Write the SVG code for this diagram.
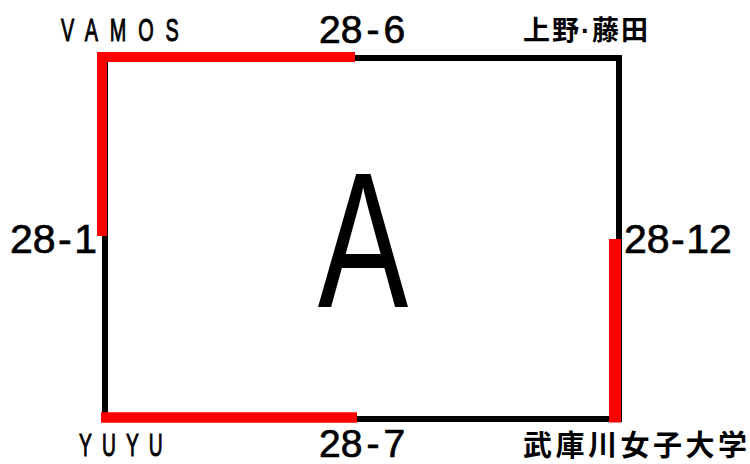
<svg xmlns="http://www.w3.org/2000/svg" width="750" height="464" viewBox="0 0 750 464">
<style>
.num{font-family:"Liberation Sans",Arial,sans-serif;font-size:39px;fill:#000;stroke:#000;stroke-width:0.7}
.team{font-family:"Liberation Sans",Arial,sans-serif;font-size:32px;fill:#000;stroke:#000;stroke-width:1}
.jp{font-family:"Liberation Sans","Noto Sans CJK JP",sans-serif;font-weight:bold;fill:#000}
.blk{fill:none;stroke:#000;stroke-width:6}
.red{fill:none;stroke:#f00;stroke-linecap:butt;stroke-linejoin:miter}
</style>
<rect width="750" height="464" fill="#fff"/>
<g id="court">
<rect class="blk" x="105" y="58" width="514" height="361"/>
<text x="0" y="0" transform="translate(363,307) scale(0.7,1)" text-anchor="middle" style="font-family:'Liberation Sans',Arial,sans-serif;font-size:194px">A</text>
</g>
<g id="connectors">
<polyline class="red" points="102,236 102,57 355,57" stroke-width="10"/>
<line class="red" x1="101" y1="417.5" x2="357" y2="417.5" stroke-width="10.5"/>
<line class="red" x1="615" y1="239" x2="615" y2="422.5" stroke-width="12"/>
</g>
<g id="label-vamos"><text class="team" transform="translate(61,41) scale(0.62,1)" x="0" y="0" textLength="190" lengthAdjust="spacing">VAMOS</text></g>
<g id="label-yuyu"><text class="team" transform="translate(79,456) scale(0.62,1)" x="0" y="0" textLength="135" lengthAdjust="spacing" style="font-size:31px">YUYU</text></g>
<g id="label-ueno"><text class="jp" x="523" y="40" style="font-size:27px;letter-spacing:2px">上野·藤田</text></g>
<g id="label-mukogawa"><text class="jp" x="523" y="456" style="font-size:29px;letter-spacing:3.5px">武庫川女子大学</text></g>
<g id="score-28-6"><text class="num" x="319" y="43">28<tspan dx="4">-</tspan><tspan dx="4">6</tspan></text></g>
<g id="score-28-7"><text class="num" x="319" y="457">28<tspan dx="4">-</tspan><tspan dx="4">7</tspan></text></g>
<g id="score-28-1"><text class="num" x="10" y="253" style="font-size:41px">28<tspan dx="2.5">-</tspan><tspan dx="2.5">1</tspan></text></g>
<g id="score-28-12"><text class="num" x="624" y="253" style="font-size:41px">28<tspan dx="1.5">-</tspan><tspan dx="1.5">12</tspan></text></g>
</svg>
